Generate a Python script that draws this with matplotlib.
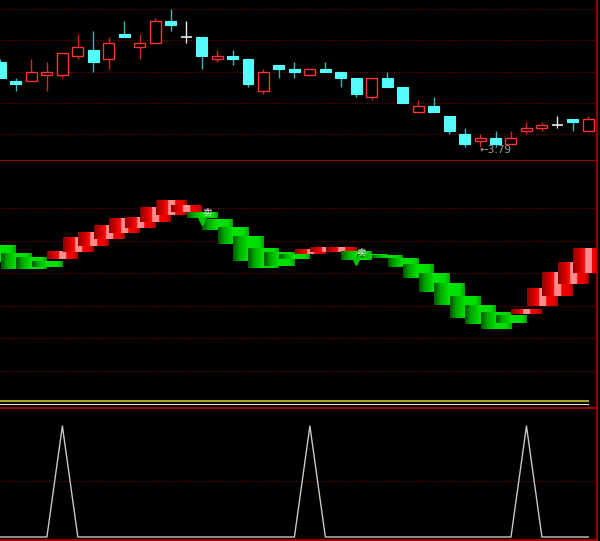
# K线 + 色带指标 + 信号副图
import matplotlib
matplotlib.use('Agg')
import matplotlib.pyplot as plt
from matplotlib.colors import LinearSegmentedColormap
import numpy as np

matplotlib.rcParams['font.family'] = ['Noto Sans CJK SC', 'DejaVu Sans']

# ---- 主图K线 ----
opens  = [4.06, 4.00, 4.00, 4.02, 4.02, 4.08, 4.10, 4.07, 4.15, 4.11,
          4.12, 4.19, 4.14, 4.14, 4.07, 4.08, 4.07, 3.97, 4.05, 4.04,
          4.02, 4.04, 4.03, 4.01, 3.95, 4.01, 3.98, 3.90, 3.92, 3.89,
          3.83, 3.81, 3.82, 3.80, 3.84, 3.85, 3.86, 3.88, 3.84]
highs  = [4.07, 4.01, 4.07, 4.06, 4.09, 4.15, 4.16, 4.14, 4.19, 4.15,
          4.20, 4.23, 4.19, 4.14, 4.10, 4.10, 4.07, 4.04, 4.05, 4.06,
          4.04, 4.06, 4.03, 4.01, 4.01, 4.03, 3.98, 3.94, 3.95, 3.89,
          3.85, 3.83, 3.84, 3.84, 3.87, 3.87, 3.89, 3.88, 3.89]
lows   = [4.01, 3.97, 4.00, 3.97, 4.01, 4.07, 4.03, 4.04, 4.14, 4.07,
          4.12, 4.16, 4.12, 4.04, 4.06, 4.05, 3.98, 3.96, 4.01, 4.01,
          4.02, 4.03, 3.98, 3.95, 3.94, 3.98, 3.93, 3.90, 3.90, 3.83,
          3.79, 3.79, 3.79, 3.80, 3.83, 3.84, 3.85, 3.84, 3.84]
closes = [4.01, 3.99, 4.03, 4.03, 4.09, 4.11, 4.06, 4.12, 4.14, 4.12,
          4.19, 4.18, 4.14, 4.08, 4.08, 4.07, 3.99, 4.03, 4.04, 4.03,
          4.04, 4.03, 4.01, 3.96, 4.01, 3.98, 3.93, 3.92, 3.90, 3.84,
          3.80, 3.82, 3.80, 3.82, 3.85, 3.86, 3.86, 3.87, 3.88]
low_label = '←3.79'
low_idx = 31
price_grid = [3.83, 3.93, 4.03, 4.13, 4.23]

# ---- 副图1 色带 ----
band_top = [38.6, 36.2, 34.7, 33.7, 36.8, 41.1, 42.3, 44.5, 46.6, 47.2,
            50.0, 52.5, 50.9, 48.5, 46.6, 44.2, 41.1, 37.7, 36.2, 35.9,
            37.4, 38.0, 38.0, 36.5, 35.9, 35.6, 34.4, 32.5, 29.8, 26.7,
            23.0, 20.2, 18.1, 16.9, 19.0, 25.2, 30.1, 33.4, 37.7]
band_bot = [33.4, 31.3, 31.3, 31.9, 34.4, 36.5, 38.3, 40.5, 42.3, 43.9,
            45.7, 47.9, 48.8, 46.9, 43.3, 39.0, 33.7, 31.6, 32.2, 34.4,
            35.9, 36.5, 36.5, 34.0, 34.7, 34.7, 31.9, 28.5, 24.2, 20.2,
            16.3, 14.4, 12.9, 14.7, 17.5, 19.9, 23.0, 26.7, 30.1]
band_red = [0, 0, 0, 0, 1, 1, 1, 1, 1, 1,
            1, 1, 1, 0, 0, 0, 0, 0, 0, 0,
            1, 1, 1, 0, 0, 0, 0, 0, 0, 0,
            0, 0, 0, 0, 1, 1, 1, 1, 1]
sell_idx = [13, 23]
sell_val = [46.0, 33.7]
level_yellow = -9.1
level_white = -10.1
mid_grid = [0, 10, 20, 30, 40, 50]

# ---- 副图2 信号 ----
signal = [0, 0, 0, 0, 1, 0, 0, 0, 0, 0,
          0, 0, 0, 0, 0, 0, 0, 0, 0, 0,
          1, 0, 0, 0, 0, 0, 0, 0, 0, 0,
          0, 0, 0, 0, 1, 0, 0, 0, 0]

RED = '#ff3232'
CYAN = '#54fcfc'
FRAME = '#b40000'
GRID = '#9a0000'
n = len(closes)
x = np.arange(n)

fig = plt.figure(figsize=(6, 5.41), dpi=100, facecolor='black')
H = 541.0
ax1 = fig.add_axes([0, 1 - 161 / H, 597 / 600, 161 / H])
ax2 = fig.add_axes([0, 1 - 408 / H, 597 / 600, 247 / H])
ax3 = fig.add_axes([0, 1 - 540 / H, 597 / 600, 132 / H])

for ax in (ax1, ax2, ax3):
    ax.set_facecolor('black')
    ax.set_xticks([])
    ax.set_yticks([])
    for s in ax.spines.values():
        s.set_visible(False)
    ax.spines['right'].set_visible(True)
    ax.spines['right'].set_color(FRAME)
    ax.spines['right'].set_linewidth(1.2)
    ax.set_xlim(-0.032, 38.56)

dots = (0, (0.7, 1.5))

# 主图
for g in price_grid:
    ax1.axhline(g, color=GRID, lw=0.8, ls=dots, zorder=0)
w = 0.71
for i in range(n):
    o, h, l, c = opens[i], highs[i], lows[i], closes[i]
    if c > o:
        ax1.vlines(i, c, h, color='#d02828', lw=1, zorder=2)
        ax1.vlines(i, l, o, color='#d02828', lw=1, zorder=2)
        ax1.bar(i, c - o, bottom=o, width=w, facecolor='black',
                edgecolor=RED, lw=1, zorder=3)
    elif c < o:
        ax1.vlines(i, l, h, color='#3cb4b4', lw=1, zorder=2)
        ax1.bar(i, o - c, bottom=c, width=w, facecolor=CYAN,
                edgecolor=CYAN, lw=0.8, zorder=3)
    else:
        ax1.vlines(i, l, h, color='#e8e8e8', lw=1, zorder=2)
        ax1.hlines(o, i - w / 2, i + w / 2, color='#e8e8e8', lw=1.2, zorder=3)
ax1.text(low_idx - 0.05, 3.782, low_label, color='#a0a0a0', fontsize=7.5,
         ha='left', va='center', family='DejaVu Sans')
ax1.set_ylim(3.7455, 4.2582)
ax1.spines['bottom'].set_visible(True)
ax1.spines['bottom'].set_color(FRAME)
ax1.spines['bottom'].set_linewidth(1.2)

# 副图1
for g in mid_grid:
    ax2.axhline(g, color=GRID, lw=0.8, ls=dots, zorder=0)
red_cmap = LinearSegmentedColormap.from_list('r', [
    (0, '#900000'), (0.25, '#e00000'), (0.4, '#ff1010'), (0.41, '#ff9090'),
    (0.62, '#ff8888'), (0.63, '#f40000'), (0.85, '#e80000'), (1, '#b00000')])
green_cmap = LinearSegmentedColormap.from_list('g', [
    (0, '#005a00'), (0.2, '#00aa00'), (0.5, '#00e400'), (0.85, '#00dc00'),
    (1, '#00a800')])
grad = np.linspace(0, 1, 60).reshape(1, -1)
for i in range(n):
    cm = red_cmap if band_red[i] else green_cmap
    ax2.imshow(grad, cmap=cm, extent=(i - 0.97, i + 0.97, band_bot[i], band_top[i]),
               aspect='auto', interpolation='nearest', zorder=2 + i * 0.01)
ax2.plot(x, [level_yellow] * n, color='#a8a820', lw=1.5, zorder=3)
ax2.plot(x, [level_white] * n, color='#e6e6e6', lw=0.8, zorder=3)
for k, i in enumerate(sell_idx):
    ax2.plot(i, sell_val[k], marker='v', color='#00c800', ms=6, zorder=5)
    ax2.text(i + 0.35, sell_val[k] + 2.6, '卖', color='#e0e0e0', fontsize=7,
             ha='center', va='center', zorder=6)
ax2.set_ylim(-11.35, 64.42)
ax2.set_xlim(-0.032, 38.56)

# 副图2
ax3.axhline(0.5, color=GRID, lw=0.8, ls=dots, zorder=0)
ax3.plot(x, signal, color='#c8c8c8', lw=1, zorder=2)
ax3.set_ylim(-0.027, 1.162)
for s in ('top', 'bottom'):
    ax3.spines[s].set_visible(True)
    ax3.spines[s].set_color(FRAME)
    ax3.spines[s].set_linewidth(1.2)

fig.savefig('out.png', dpi=100, facecolor='black')
